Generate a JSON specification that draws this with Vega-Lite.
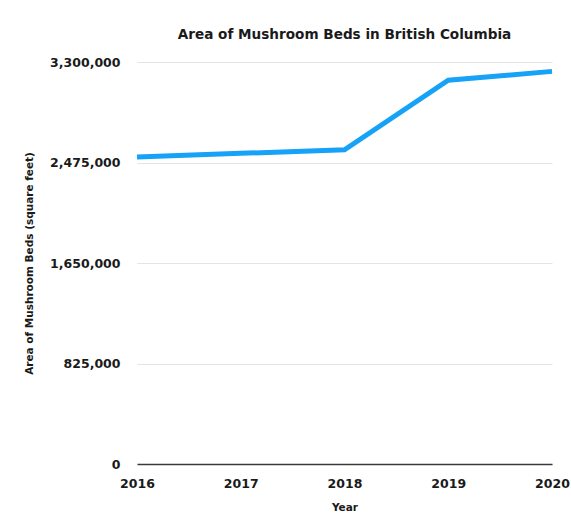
{
  "$schema": "https://vega.github.io/schema/vega-lite/v6.json",
  "autosize": {"type": "none"},
  "width": 415,
  "height": 402,
  "padding": {"left": 137, "top": 62, "right": 19, "bottom": 59},
  "background": "white",
  "title": {
    "text": "Area of Mushroom Beds in British Columbia",
    "fontSize": 13.6,
    "fontWeight": "bold",
    "font": "DejaVu Sans",
    "color": "#1a1a1a",
    "anchor": "middle",
    "offset": 14
  },
  "data": {
    "values": [
      {"Year": 2016, "Area": 2520000},
      {"Year": 2017, "Area": 2550000},
      {"Year": 2018, "Area": 2580000},
      {"Year": 2019, "Area": 3150000},
      {"Year": 2020, "Area": 3223000}
    ]
  },
  "mark": {"type": "line", "color": "#16a2f7", "strokeWidth": 5, "strokeJoin": "miter"},
  "encoding": {
    "x": {
      "field": "Year",
      "type": "quantitative",
      "scale": {"domain": [2016, 2020], "nice": false, "zero": false},
      "axis": {
        "values": [2016, 2017, 2018, 2019, 2020],
        "format": "d",
        "title": "Year",
        "grid": false,
        "ticks": false,
        "labelFlush": false,
        "domainColor": "#3a3a3a",
        "domainWidth": 1.6,
        "labelFont": "DejaVu Sans",
        "labelFontSize": 12.5,
        "labelFontWeight": "bold",
        "labelColor": "#1a1a1a",
        "labelPadding": 13,
        "titleFont": "DejaVu Sans",
        "titleFontSize": 10.5,
        "titleFontWeight": "bold",
        "titleColor": "#1a1a1a",
        "titlePadding": 13
      }
    },
    "y": {
      "field": "Area",
      "type": "quantitative",
      "scale": {"domain": [0, 3300000], "nice": false},
      "axis": {
        "values": [0, 825000, 1650000, 2475000, 3300000],
        "format": ",d",
        "title": "Area of Mushroom Beds (square feet)",
        "domain": false,
        "ticks": false,
        "gridColor": "#e4e4e4",
        "labelFont": "DejaVu Sans",
        "labelFontSize": 12.5,
        "labelFontWeight": "bold",
        "labelColor": "#1a1a1a",
        "labelPadding": 17,
        "titleFont": "DejaVu Sans",
        "titleFontSize": 10.5,
        "titleFontWeight": "bold",
        "titleColor": "#1a1a1a",
        "titlePadding": 15
      }
    }
  },
  "config": {"view": {"stroke": null}}
}
